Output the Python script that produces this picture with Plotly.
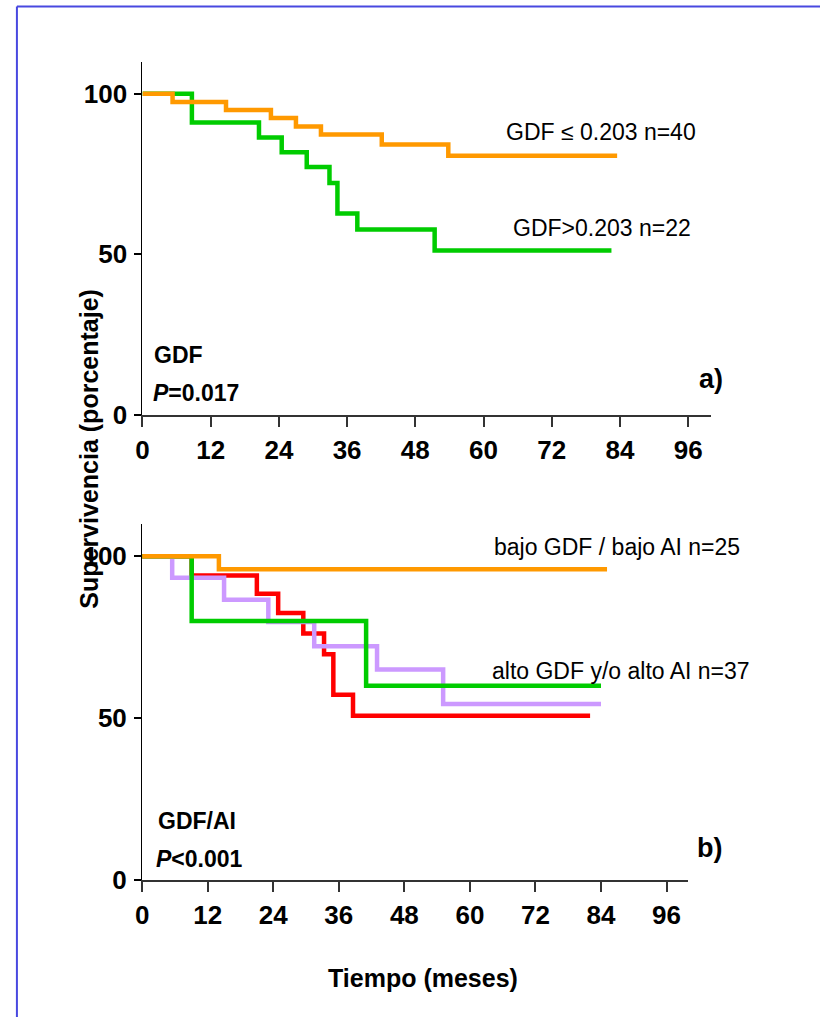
import plotly.graph_objects as go

# ---- data (months, % survival) ----
a_low_t = [0, 5.3, 14.7, 22.6, 27.0, 31.4, 42.1, 53.8, 83.5]
a_low_s = [100, 97.5, 95.0, 92.5, 89.8, 87.3, 84.2, 80.7, 80.7]
a_high_t = [0, 8.7, 20.5, 24.5, 28.9, 32.9, 34.3, 37.8, 51.4, 82.5]
a_high_s = [100, 91.1, 86.4, 81.8, 77.2, 72.2, 62.7, 57.7, 51.2, 51.2]

b_orange_t = [0, 14.05, 85.1]
b_orange_s = [100, 96, 96]
b_green_t = [0, 9.07, 41.0, 84.0]
b_green_s = [100, 80, 60, 60]
b_purple_t = [0, 5.5, 15.0, 23.1, 31.5, 43.0, 55.1, 84.0]
b_purple_s = [100, 93.4, 86.6, 79.7, 72.2, 65.0, 54.3, 54.3]
b_red_t = [0, 9.07, 21.0, 24.9, 29.5, 33.3, 35.0, 38.6, 82.0]
b_red_s = [100, 94.1, 88.4, 82.5, 76.1, 69.7, 57.2, 50.7, 50.7]

x_ticks = [0, 12, 24, 36, 48, 60, 72, 84, 96]
y_ticks = [0, 50, 100]

ORANGE = "#FF9900"
GREEN = "#00CC00"
RED = "#FF0000"
PURPLE = "#CC99FF"

W, H = 820, 1032
FONT = "Liberation Sans"

def px(x):
    return x / W

def py(y):
    return 1 - y / H

fig = go.Figure()

def step(t, s, color, xa, ya):
    fig.add_trace(go.Scatter(x=t, y=s, mode="lines", line=dict(color=color, width=4.5, shape="hv"),
                             xaxis=xa, yaxis=ya, showlegend=False, hoverinfo="skip"))

step(a_high_t, a_high_s, GREEN, "x", "y")
step(a_low_t, a_low_s, ORANGE, "x", "y")
step(b_red_t, b_red_s, RED, "x2", "y2")
step(b_purple_t, b_purple_s, PURPLE, "x2", "y2")
step(b_green_t, b_green_s, GREEN, "x2", "y2")
step(b_orange_t, b_orange_s, ORANGE, "x2", "y2")

tickfont = dict(family=FONT, size=26, color="black", weight="bold")
common_x = dict(range=[0, 100], tickvals=x_ticks, ticks="outside", ticklen=11, tickwidth=1.5,
                tickcolor="#333", showline=True, linecolor="#333", linewidth=1.5, showgrid=False,
                zeroline=False, tickfont=tickfont, ticklabelstandoff=0)
common_y = dict(range=[0, 110], tickvals=y_ticks, ticks="outside", ticklen=7, tickwidth=1.5,
                tickcolor="black", showline=True, linecolor="black", linewidth=1.2, showgrid=False,
                zeroline=False, tickfont=tickfont, ticklabelstandoff=2)

fig.update_layout(
    width=W, height=H, margin=dict(l=0, r=0, t=0, b=0),
    paper_bgcolor="white", plot_bgcolor="white",
    xaxis=dict(domain=[px(136.6), px(710)], anchor="y", **common_x),
    yaxis=dict(domain=[py(420.7), py(62.7)], anchor="x", **common_y),
    xaxis2=dict(domain=[px(136.3), px(687.3)], anchor="y2", **common_x),
    yaxis2=dict(domain=[py(892.7), py(531.7)], anchor="x2", **common_y),
)

def ann(text, x, y, xref, yref, size, xanchor="left", bold=False, textangle=0):
    fig.add_annotation(text=text, x=x, y=y, xref=xref, yref=yref, showarrow=False,
                       xanchor=xanchor, yanchor="middle", textangle=textangle, borderpad=0,
                       font=dict(family=FONT, size=size, color="black",
                                 weight="bold" if bold else "normal"))

lab = 23
ann("GDF \u2264 0.203 n=40", 63.8, 88.2, "x", "y", lab)
ann("GDF>0.203 n=22", 65.0, 58.1, "x", "y", lab)
ann("GDF", 1.8, 18.5, "x", "y", 23, bold=True)
ann("<i>P</i>=0.017", 1.6, 6.6, "x", "y", 23, bold=True)
ann("a)", px(723), py(385), "paper", "paper", 27, xanchor="right", bold=True)

ann("bajo GDF / bajo AI n=25", 64.2, 102.9, "x2", "y2", lab)
ann("alto GDF y/o alto AI n=37", 63.8, 64.5, "x2", "y2", lab)
ann("GDF/AI", 2.8, 18.2, "x2", "y2", 23, bold=True)
ann("<i>P</i><0.001", 2.3, 6.3, "x2", "y2", 23, bold=True)
ann("b)", px(722), py(860), "paper", "paper", 27, xanchor="right", bold=True)

fig.add_annotation(text="Supervivencia (porcentaje)", x=px(83), y=py(455), xref="paper", yref="paper",
                   showarrow=False, textangle=-90, xanchor="center", yanchor="middle",
                   font=dict(family=FONT, size=25, color="black", weight="bold"))
fig.add_annotation(text="Tiempo (meses)", x=px(420), y=py(992), xref="paper", yref="paper",
                   showarrow=False, xanchor="center", yanchor="middle",
                   font=dict(family=FONT, size=25, color="black", weight="bold"))

# frame lines (top and left)
fig.add_shape(type="line", x0=px(10), x1=1, y0=py(6.5), y1=py(6.5), xref="paper", yref="paper",
              line=dict(color="#4848E0", width=2))
fig.add_shape(type="line", x0=px(10), x1=px(10), y0=py(6.5), y1=0, xref="paper", yref="paper",
              line=dict(color="#4848E0", width=2))

fig.write_html("out.html")
